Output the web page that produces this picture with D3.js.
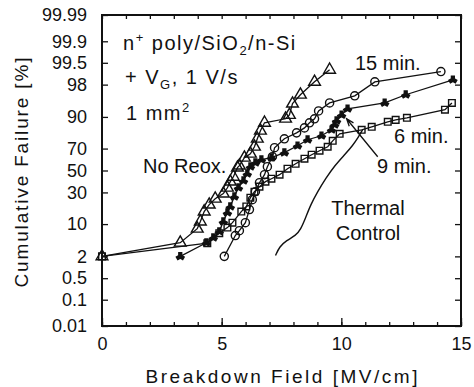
<!DOCTYPE html>
<html>
<head>
<meta charset="utf-8">
<script src="https://cdn.jsdelivr.net/npm/d3@7"></script>
<style>
  body { margin: 0; background: #fff; }
  svg { display: block; }
  text { font-family: "Liberation Sans", Arial, sans-serif; fill: #111; }
</style>
</head>
<body>
<svg id="chart" width="474" height="387"></svg>
<script>
// probability axis (cumulative failure, %)
const probTicks = [0.01, 0.1, 0.5, 2, 10, 30, 50, 70, 90, 98, 99.5, 99.9, 99.99];
const probLabels = ['0.01', '0.1', '0.5', '2', '10', '30', '50', '70', '90', '98', '99.5', '99.9', '99.99'];
const fieldTicks = d3.range(0, 16);
const fieldLabels = [0, 5, 10, 15];

// No Reox. (triangles)
const noReoxField = [0, 3.27, 3.98, 4.11, 4.27, 4.48, 4.73, 5.07, 5.24, 5.36, 5.49, 5.66, 5.74, 5.95, 6.2, 6.37, 6.49, 6.62, 6.79, 7.67, 7.83, 7.96, 8.29, 8.88, 9.51];
const noReoxFail = [2, 4.2, 8.2, 11.1, 16.3, 20.7, 25, 29, 34, 39.5, 44, 52.7, 54.6, 62, 65.6, 71.5, 77.6, 82.9, 87.3, 89.2, 90.8, 94.5, 96.5, 98.3, 99.2];

// 15 min. (circles)
const min15Field = [5.11, 5.57, 5.74, 5.99, 6.16, 6.28, 6.41, 6.58, 6.79, 6.91, 7.12, 7.21, 7.62, 8.13, 8.46, 8.67, 8.88, 9.05, 9.51, 10.56, 11.4, 14.16];
const min15Fail = [2, 6, 7.5, 10.6, 17.5, 24.3, 30.6, 38.5, 46, 53.6, 62.9, 70.7, 77.6, 81.6, 84.6, 87.3, 89.2, 92.3, 94.7, 96.3, 98.3, 99.1];

// 9 min. (wye markers)
const min9Field = [3.27, 4.36, 4.65, 4.9, 5.07, 5.24, 5.36, 5.53, 5.7, 5.91, 6.07, 6.2, 6.41, 6.66, 7.08, 7.62, 8.17, 8.59, 9.17, 9.59, 9.72, 9.8, 10.01, 10.26, 11.81, 12.69, 14.66];
const min9Fail = [2, 4.2, 5.4, 7.2, 11.1, 15.7, 19.4, 26.6, 34.1, 40.4, 47, 53.6, 57.4, 60.2, 62, 66.5, 72.3, 76.9, 79.7, 83.5, 86.3, 88.3, 90.8, 93, 94.7, 96.5, 98.5];

// 6 min. (squares)
const min6Field = [0, 4.4, 4.9, 5.24, 5.45, 5.82, 6.03, 6.2, 6.37, 6.58, 6.83, 7.08, 7.42, 7.75, 8.09, 8.46, 8.76, 9.09, 9.43, 9.64, 9.93, 10.85, 11.27, 11.94, 12.27, 12.74, 14.33, 14.62];
const min6Fail = [2, 4.1, 6.7, 8.6, 10.6, 16.3, 19.5, 25.8, 30.6, 35, 39.5, 42.2, 46, 51.7, 56.4, 61.1, 64.7, 68.2, 71.5, 76.1, 81, 83.5, 85.2, 87.8, 88.7, 89.6, 92.7, 94.7];

// Thermal control (smooth curve, no markers)
const thermalField = [7.25, 7.42, 7.71, 8.09, 8.3, 8.51, 8.72, 9.01, 9.34, 9.72, 10.14, 10.47, 10.72, 10.89];
const thermalFail = [2.1, 3.45, 4.7, 6, 7.9, 13, 20.7, 30.6, 42.2, 54.6, 64.7, 72.3, 79, 83.5];

// inverse normal CDF (Acklam)
function probit(p) {
  const a = [-3.969683028665376e+01, 2.209460984245205e+02, -2.759285104469687e+02, 1.383577518672690e+02, -3.066479806614716e+01, 2.506628277459239e+00];
  const b = [-5.447609879822406e+01, 1.615858368580409e+02, -1.556989798598866e+02, 6.680131188771972e+01, -1.328068155288572e+01];
  const c = [-7.784894002430293e-03, -3.223964580411365e-01, -2.400758277161838e+00, -2.549732539343734e+00, 4.374664141464968e+00, 2.938163982698783e+00];
  const d = [7.784695709041462e-03, 3.224671290700398e-01, 2.445134137142996e+00, 3.754408661907416e+00];
  const pl = 0.02425;
  let q, r;
  if (p < pl) {
    q = Math.sqrt(-2 * Math.log(p));
    return (((((c[0] * q + c[1]) * q + c[2]) * q + c[3]) * q + c[4]) * q + c[5]) / ((((d[0] * q + d[1]) * q + d[2]) * q + d[3]) * q + 1);
  }
  if (p <= 1 - pl) {
    q = p - 0.5; r = q * q;
    return (((((a[0] * r + a[1]) * r + a[2]) * r + a[3]) * r + a[4]) * r + a[5]) * q / (((((b[0] * r + b[1]) * r + b[2]) * r + b[3]) * r + b[4]) * r + 1);
  }
  q = Math.sqrt(-2 * Math.log(1 - p));
  return -(((((c[0] * q + c[1]) * q + c[2]) * q + c[3]) * q + c[4]) * q + c[5]) / ((((d[0] * q + d[1]) * q + d[2]) * q + d[3]) * q + 1);
}

const svg = d3.select('#chart');
const plot = { left: 102, right: 461, top: 15, bottom: 326 };

const x = d3.scaleLinear().domain([0, 15]).range([plot.left, plot.right]);
const y = d3.scaleLinear()
  .domain([probit(0.0001), probit(0.9999)])
  .range([plot.bottom, plot.top]);
const yp = p => y(probit(p / 100));

const zip = (xs, ys) => xs.map((v, i) => [v, ys[i]]);

const series = [
  { name: 'No Reox.', data: zip(noReoxField, noReoxFail), symbol: d3.symbolTriangle, size: 60, filled: false, rot: 0 },
  { name: '6 min.', data: zip(min6Field, min6Fail), symbol: d3.symbolSquare, size: 44, filled: false, rot: 0 },
  { name: '9 min.', data: zip(min9Field, min9Fail), symbol: d3.symbolWye, size: 28, filled: true, rot: 180 },
  { name: '15 min.', data: zip(min15Field, min15Fail), symbol: d3.symbolCircle, size: 52, filled: false, rot: 0 },
];

// axes
const yTickVals = probTicks.map(p => probit(p / 100));

svg.append('g')
  .attr('transform', `translate(${plot.left},0)`)
  .call(d3.axisLeft(y).tickValues(yTickVals).tickFormat((d, i) => probLabels[i]).tickSize(-6).tickSizeOuter(0).tickPadding(15))
  .call(g => g.select('.domain').remove())
  .call(g => g.selectAll('text').style('font-size', '18px'));

svg.append('g')
  .attr('transform', `translate(${plot.right},0)`)
  .call(d3.axisRight(y).tickValues(yTickVals).tickFormat('').tickSize(-6).tickSizeOuter(0))
  .call(g => g.select('.domain').remove());

svg.append('g')
  .attr('transform', `translate(0,${plot.bottom})`)
  .call(d3.axisBottom(x).tickValues(fieldTicks).tickFormat('').tickSize(-4).tickSizeOuter(0))
  .call(g => g.select('.domain').remove());

svg.append('g')
  .attr('transform', `translate(0,${plot.bottom})`)
  .call(d3.axisBottom(x).tickValues(fieldLabels).tickFormat(d3.format('d')).tickSize(-8).tickSizeOuter(0).tickPadding(11))
  .call(g => g.select('.domain').remove())
  .call(g => g.selectAll('text').style('font-size', '18px'));

svg.append('g')
  .attr('transform', `translate(0,${plot.top})`)
  .call(d3.axisTop(x).tickValues(fieldTicks).tickFormat('').tickSize(-4).tickSizeOuter(0))
  .call(g => g.select('.domain').remove());

svg.selectAll('.tick line').attr('stroke', '#111').attr('stroke-width', 1.3);

svg.append('rect')
  .attr('x', plot.left).attr('y', plot.top)
  .attr('width', plot.right - plot.left).attr('height', plot.bottom - plot.top)
  .attr('fill', 'none').attr('stroke', '#111').attr('stroke-width', 2);

// axis titles
svg.append('text')
  .attr('x', (plot.left + plot.right) / 2).attr('y', 383)
  .attr('text-anchor', 'middle')
  .attr('textLength', 272).attr('lengthAdjust', 'spacing')
  .style('font-size', '19px')
  .text('Breakdown Field [MV/cm]');

svg.append('text')
  .attr('transform', `translate(28,${(plot.top + plot.bottom) / 2 + 2}) rotate(-90)`)
  .attr('text-anchor', 'middle')
  .attr('textLength', 230).attr('lengthAdjust', 'spacing')
  .style('font-size', '19px')
  .text('Cumulative Failure [%]');

// data
const line = d3.line().x(d => x(d[0])).y(d => yp(d[1]));

svg.append('path')
  .datum(zip(thermalField, thermalFail))
  .attr('d', line.curve(d3.curveBasis))
  .attr('fill', 'none').attr('stroke', '#111').attr('stroke-width', 1.4);
line.curve(d3.curveLinear);

series.forEach(s => {
  const g = svg.append('g');
  g.append('path')
    .datum(s.data)
    .attr('d', line)
    .attr('fill', 'none').attr('stroke', '#111').attr('stroke-width', 1.3);
  g.selectAll('path.mark')
    .data(s.data)
    .join('path')
    .attr('class', 'mark')
    .attr('transform', d => `translate(${x(d[0])},${yp(d[1])}) rotate(${s.rot})`)
    .attr('d', d3.symbol(s.symbol, s.size))
    .attr('fill', s.filled ? '#111' : 'none')
    .attr('stroke', '#111').attr('stroke-width', 1.4);
});

// annotations
const info = svg.append('g').style('font-size', '20px').style('letter-spacing', '1.5px');
const t1 = info.append('text').attr('x', 123).attr('y', 50);
t1.append('tspan').text('n');
t1.append('tspan').attr('dy', -8).style('font-size', '13px').text('+');
t1.append('tspan').attr('dy', 8).text(' poly/SiO');
t1.append('tspan').attr('dy', 5).style('font-size', '13px').text('2');
t1.append('tspan').attr('dy', -5).text('/n-Si');

const t2 = info.append('text').attr('x', 125).attr('y', 84);
t2.append('tspan').text('+ V');
t2.append('tspan').attr('dy', 5).style('font-size', '13px').text('G');
t2.append('tspan').attr('dy', -5).text(', 1 V/s');

const t3 = info.append('text').attr('x', 126).attr('y', 120);
t3.append('tspan').text('1 mm');
t3.append('tspan').attr('dy', -8).style('font-size', '13px').text('2');

const labels = svg.append('g').style('font-size', '20px');
labels.append('text').attr('x', 143).attr('y', 173).text('No Reox.');
labels.append('text').attr('x', 355).attr('y', 70).text('15 min.');
labels.append('text').attr('x', 394).attr('y', 143).text('6 min.');
labels.append('text').attr('x', 377).attr('y', 173).text('9 min.');
labels.append('text').attr('x', 368).attr('y', 215).attr('text-anchor', 'middle').text('Thermal');
labels.append('text').attr('x', 368).attr('y', 240).attr('text-anchor', 'middle').text('Control');

// arrow to the 9 min. series
const arrowFrom = [11.52, 62.9];
const arrowTo = [10.22, 89.2];
const ax0 = x(arrowFrom[0]), ay0 = yp(arrowFrom[1]);
const ax1 = x(arrowTo[0]), ay1 = yp(arrowTo[1]);
const ang = Math.atan2(ay0 - ay1, ax0 - ax1);
svg.append('path')
  .attr('d', `M${ax0},${ay0}L${ax1},${ay1}` +
    `M${ax1 + 8 * Math.cos(ang - 0.35)},${ay1 + 8 * Math.sin(ang - 0.35)}L${ax1},${ay1}` +
    `L${ax1 + 8 * Math.cos(ang + 0.35)},${ay1 + 8 * Math.sin(ang + 0.35)}`)
  .attr('fill', 'none').attr('stroke', '#111').attr('stroke-width', 1.3);
</script>
</body>
</html>
